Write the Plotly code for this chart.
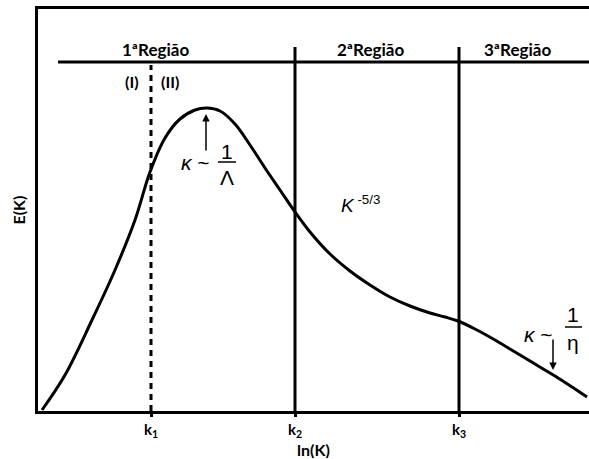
import plotly.graph_objects as go

# Energy spectrum E(K) vs ln(K) (arbitrary units)
lnk = [4, 27, 54, 77, 97, 112, 127, 142, 157, 169, 182, 197, 212, 227, 242, 257, 272, 292,
       312, 332, 352, 372, 392, 407, 420, 437, 457, 477, 497, 517, 537, 549]
energy = [1, 36, 91, 141, 191, 239, 273, 292, 301, 303, 300, 287, 266, 243, 221, 199, 179, 157,
          140, 126, 114, 105, 98, 94, 90, 82, 71, 59, 47, 35, 22, 14]

k_positions = [113, 257, 421]
k_labels = ["k<sub>1</sub>", "k<sub>2</sub>", "k<sub>3</sub>"]
region_labels = ["1ªRegião", "2ªRegião", "3ªRegião"]
region_x = [117, 332, 479]
sub_labels = ["(I)", "(II)"]
sub_x = [94, 132]

X_MAX, Y_MAX = 551, 402
HEADER_Y = 349
TOP_Y = 364

fig = go.Figure()
fig.add_trace(go.Scatter(x=lnk, y=energy, mode="lines",
                         line=dict(color="black", width=3, shape="spline", smoothing=1),
                         hoverinfo="skip", showlegend=False))

bold = dict(family="Lato, Open Sans, sans-serif", size=17, color="black", weight="bold")
bold_small = dict(bold, size=16)
tick_font = dict(bold, size=15)
shapes = [
    dict(type="line", x0=20, x1=X_MAX, y0=HEADER_Y, y1=HEADER_Y, xref="x", yref="y",
         line=dict(color="black", width=3)),
    dict(type="line", x0=k_positions[0], x1=k_positions[0], y0=0, y1=HEADER_Y - 3, xref="x", yref="y",
         line=dict(color="black", width=3, dash="6px,5px")),
    dict(type="line", x0=k_positions[1], x1=k_positions[1], y0=0, y1=TOP_Y, xref="x", yref="y",
         line=dict(color="black", width=3)),
    dict(type="line", x0=k_positions[2], x1=k_positions[2], y0=0, y1=TOP_Y, xref="x", yref="y",
         line=dict(color="black", width=3)),
    # fraction bars
    dict(type="line", x0=180, x1=198, y0=249, y1=249, xref="x", yref="y",
         line=dict(color="black", width=1.5)),
    dict(type="line", x0=527, x1=544, y0=84, y1=84, xref="x", yref="y",
         line=dict(color="black", width=1.5)),
]

ann = []
for t, x in zip(region_labels, region_x):
    ann.append(dict(x=x, y=362, text=t, showarrow=False, font=bold, xref="x", yref="y"))
for t, x in zip(sub_labels, sub_x):
    ann.append(dict(x=x, y=330, text=t, showarrow=False, font=bold_small, xref="x", yref="y"))

sym = dict(family="Liberation Sans, Arial, sans-serif", size=21, color="black")
ann += [
    dict(x=157, y=249, text="<i>κ</i> ~", showarrow=False, font=sym, xref="x", yref="y"),
    dict(x=189, y=260, text="1", showarrow=False, font=sym, xref="x", yref="y"),
    dict(x=189, y=234, text="Λ", showarrow=False, font=sym, xref="x", yref="y"),
    dict(x=168, y=297, ax=168, ay=259, axref="x", ayref="y", xref="x", yref="y", text="",
         showarrow=True, arrowhead=2, arrowsize=1, arrowwidth=1.5, arrowcolor="black"),
    dict(x=500, y=77, text="<i>κ</i> ~", showarrow=False, font=sym, xref="x", yref="y"),
    dict(x=535, y=97, text="1", showarrow=False, font=sym, xref="x", yref="y"),
    dict(x=535, y=69, text="η", showarrow=False, font=sym, xref="x", yref="y"),
    dict(x=515, y=41, ax=515, ay=73, axref="x", ayref="y", xref="x", yref="y", text="",
         showarrow=True, arrowhead=2, arrowsize=1, arrowwidth=1.5, arrowcolor="black"),
    dict(x=322, y=207, text="<i>K</i><sup> -5/3</sup>", showarrow=False,
         font=dict(family="Liberation Sans, Arial, sans-serif", size=19, color="black"),
         xref="x", yref="y"),
]

fig.update_layout(
    width=589, height=459,
    margin=dict(l=38, r=0, t=9, b=48),
    paper_bgcolor="white", plot_bgcolor="white",
    shapes=shapes, annotations=ann, showlegend=False,
    xaxis=dict(range=[0, X_MAX], showgrid=False, zeroline=False, showline=True, mirror=True,
               linecolor="black", linewidth=3, tickmode="array", tickvals=k_positions,
               ticktext=k_labels, ticks="outside", ticklen=3, tickwidth=3, tickcolor="black",
               tickfont=tick_font,
               title=dict(text="ln(K)", font=bold_small, standoff=3)),
    yaxis=dict(range=[0, Y_MAX], showgrid=False, zeroline=False, showline=True, mirror=False,
               linecolor="black", linewidth=3, showticklabels=False, ticks="",
               title=dict(text="E(K)", font=bold_small, standoff=6)),
)

fig.write_html("out.html")
